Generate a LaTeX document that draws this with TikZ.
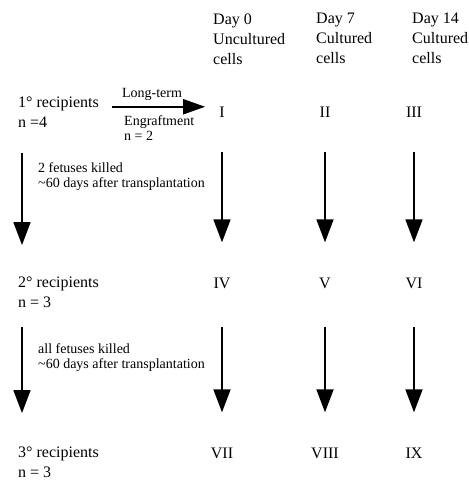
\documentclass[tikz,border=0pt]{standalone}
\usepackage{fontspec}
\setmainfont{Liberation Serif}
\usetikzlibrary{arrows.meta,calc}

\begin{document}
\begin{tikzpicture}[x=1pt, y=1pt, >={Triangle[length=23pt,width=17pt]}]
    \tikzstyle{lbl}=[inner sep=0pt, font=\fontsize{16}{20}\selectfont, align=left, anchor=north west]
    \tikzstyle{num}=[inner sep=0pt, font=\fontsize{16}{20}\selectfont, anchor=base]
    \tikzstyle{note}=[inner sep=0pt, font=\fontsize{14}{15}\selectfont, align=left]
    \tikzstyle{down}=[->, line width=1.7pt]
    \tikzstyle{side}=[->, line width=2pt, >={Triangle[length=22pt,width=15pt]}]
    \useasboundingbox (0,0) rectangle (469,-483);

    % column heads
    \node[lbl] (day0) at (213,-13.2) {Day 0\\Uncultured\\cells};
    \node[lbl] (day7) at (316,-13.2) {Day 7\\Cultured\\cells};
    \node[lbl] (day14) at (412,-13.2) {Day 14\\Cultured\\cells};

    % recipients
    \node[lbl] (rec1) at (18,-97.1) {1° recipients\\n =4};
    \node[lbl] (rec2) at (18,-277.1) {2° recipients\\n = 3};
    \node[lbl] (rec3) at (18,-447.1) {3° recipients\\n = 3};

    % groups
    \node[num] (I) at (222,-117) {I};
    \node[num] (II) at (325,-117) {II};
    \node[num] (III) at (414,-117) {III};
    \node[num] (IV) at (222,-288) {IV};
    \node[num] (V) at (325,-288) {V};
    \node[num] (VI) at (414,-288) {VI};
    \node[num] (VII) at (222,-458) {VII};
    \node[num] (VIII) at (325,-458) {VIII};
    \node[num] (IX) at (414,-458) {IX};

    \node[note, anchor=base] (lt) at (152,-97) {Long-term};
    \node[note, anchor=north west] (eng) at (124,-115.4) {Engraftment\\n = 2};
    \node[note, anchor=north west] (kill1) at (38,-162.4) {2 fetuses killed\\\textasciitilde60 days after transplantation};
    \node[note, anchor=north west] (kill2) at (38,-343.4) {all fetuses killed\\\textasciitilde60 days after transplantation};

    \draw[side, shorten <=13pt, shorten >=14pt] ([yshift=5pt]I.west -| rec1.east) -- ([yshift=5pt]I.west);

    \draw[down, shorten <=25pt, shorten >=32pt] ([xshift=4pt]rec1.south west) -- ([xshift=4pt]rec2.north west);
    \draw[down, shorten <=19pt, shorten >=34pt] ([xshift=4pt]rec2.south west) -- ([xshift=4pt]rec3.north west);
    \foreach \a/\b in {I/IV, II/V, III/VI}
      \draw[down, shorten <=35pt, shorten >=35pt] (\a) -- (\b);
    \foreach \a/\b in {IV/VII, V/VIII, VI/IX}
      \draw[down, shorten <=39pt, shorten >=35pt] (\a) -- (\b);
\end{tikzpicture}
\end{document}
